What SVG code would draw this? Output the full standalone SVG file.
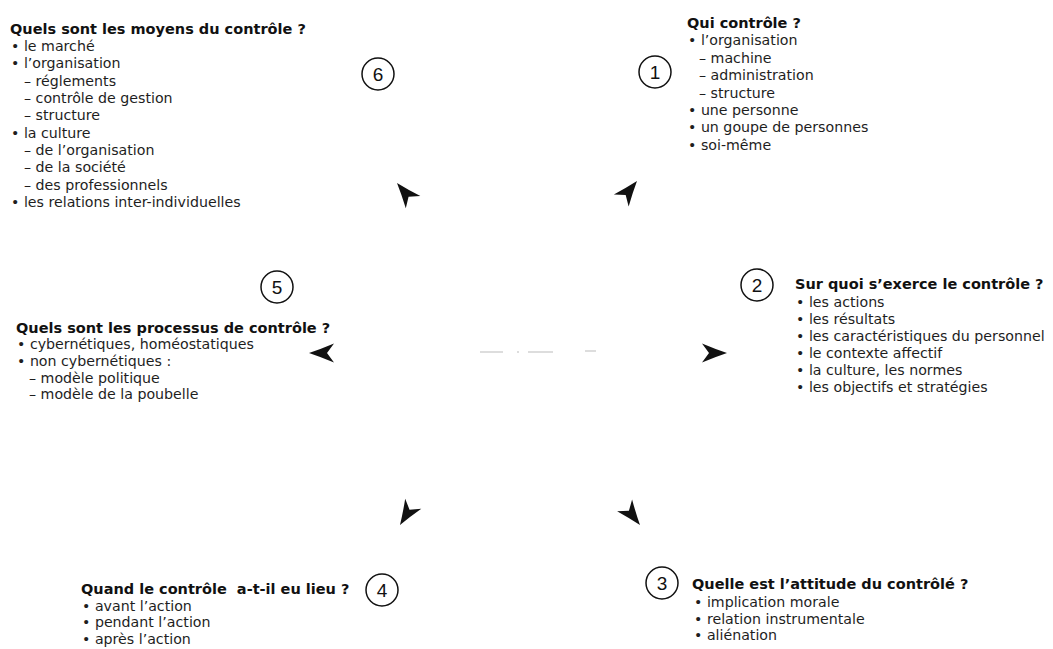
<svg xmlns="http://www.w3.org/2000/svg" xmlns:xlink="http://www.w3.org/1999/xlink" width="1053" height="649" viewBox="0 0 1053 649">
  <style>
    .t { font-family: "DejaVu Sans", "Liberation Sans", sans-serif; font-size: 14.5px; font-weight: 700; fill: #111; }
    .b { font-family: "DejaVu Sans", "Liberation Sans", sans-serif; font-size: 14.2px; fill: #1e1e1e; }
    .num { font-family: "Liberation Sans", Arial, sans-serif; font-size: 19px; fill: #111; text-anchor: middle; }
    .ring { fill: none; stroke: #111; stroke-width: 1.5; }
    .head { fill: #111; }
    .faint { stroke: #bbb; stroke-width: 1; }
  </style>
  <defs>
    <!-- stealth-style arrowhead, tip at origin, pointing along +x -->
    <path id="ah" d="M0,0 Q-12,-4 -25,-9.5 L-18,0 L-25,9.5 Q-12,4 0,0 Z"/>
  </defs>
  <rect width="1053" height="649" fill="#fff"/>

  <!-- 6: means of control -->
  <g id="node6">
    <circle class="ring" cx="378" cy="74" r="16"/>
    <text class="num" x="378" y="81">6</text>
    <text class="t" x="10" y="34">Quels sont les moyens du contrôle ?</text>
    <text class="b" x="11" y="51">• le marché</text>
    <text class="b" x="11" y="68">• l’organisation</text>
    <text class="b" x="24" y="86">– réglements</text>
    <text class="b" x="24" y="103">– contrôle de gestion</text>
    <text class="b" x="24" y="120">– structure</text>
    <text class="b" x="11" y="138">• la culture</text>
    <text class="b" x="24" y="155">– de l’organisation</text>
    <text class="b" x="24" y="172">– de la société</text>
    <text class="b" x="24" y="190">– des professionnels</text>
    <text class="b" x="11" y="207">• les relations inter-individuelles</text>
  </g>

  <!-- 1: who controls -->
  <g id="node1">
    <circle class="ring" cx="655" cy="72" r="16"/>
    <text class="num" x="655" y="79">1</text>
    <text class="t" x="687" y="28">Qui contrôle ?</text>
    <text class="b" x="688" y="45">• l’organisation</text>
    <text class="b" x="699" y="63">– machine</text>
    <text class="b" x="699" y="80">– administration</text>
    <text class="b" x="699" y="98">– structure</text>
    <text class="b" x="688" y="115">• une personne</text>
    <text class="b" x="688" y="132">• un goupe de personnes</text>
    <text class="b" x="688" y="150">• soi-même</text>
  </g>

  <!-- 2: what control applies to -->
  <g id="node2">
    <circle class="ring" cx="757" cy="285" r="16"/>
    <text class="num" x="757" y="292">2</text>
    <text class="t" x="795" y="289">Sur quoi s’exerce le contrôle ?</text>
    <text class="b" x="796" y="307">• les actions</text>
    <text class="b" x="796" y="324">• les résultats</text>
    <text class="b" x="796" y="341">• les caractéristiques du personnel</text>
    <text class="b" x="796" y="358">• le contexte affectif</text>
    <text class="b" x="796" y="375">• la culture, les normes</text>
    <text class="b" x="796" y="392">• les objectifs et stratégies</text>
  </g>

  <!-- 3: attitude of the controlled -->
  <g id="node3">
    <circle class="ring" cx="662" cy="583" r="16"/>
    <text class="num" x="662" y="590">3</text>
    <text class="t" x="692" y="589">Quelle est l’attitude du contrôlé ?</text>
    <text class="b" x="694" y="607">• implication morale</text>
    <text class="b" x="694" y="623.5">• relation instrumentale</text>
    <text class="b" x="694" y="640">• aliénation</text>
  </g>

  <!-- 4: when control happens -->
  <g id="node4">
    <circle class="ring" cx="382" cy="590" r="16"/>
    <text class="num" x="382" y="597">4</text>
    <text class="t" x="81" y="594" xml:space="preserve">Quand le contrôle  a-t-il eu lieu ?</text>
    <text class="b" x="82" y="610.5">• avant l’action</text>
    <text class="b" x="82" y="627">• pendant l’action</text>
    <text class="b" x="82" y="643.5">• après l’action</text>
  </g>

  <!-- 5: control processes -->
  <g id="node5">
    <circle class="ring" cx="277" cy="287" r="16"/>
    <text class="num" x="277" y="294">5</text>
    <text class="t" x="16" y="332.5">Quels sont les processus de contrôle ?</text>
    <text class="b" x="17" y="349">• cybernétiques, homéostatiques</text>
    <text class="b" x="17" y="366">• non cybernétiques :</text>
    <text class="b" x="29" y="382.5">– modèle politique</text>
    <text class="b" x="29" y="399">– modèle de la poubelle</text>
  </g>

  <!-- connectors: arrowheads radiating from the centre -->
  <g id="connectors">
    <line class="faint" x1="480" y1="352" x2="503" y2="352"/>
    <line class="faint" x1="517" y1="352" x2="519" y2="352"/>
    <line class="faint" x1="528" y1="352" x2="553" y2="352"/>
    <line class="faint" x1="585" y1="351" x2="596" y2="351"/>
    <use class="head" xlink:href="#ah" transform="translate(637,181) rotate(-51)"/>
    <use class="head" xlink:href="#ah" transform="translate(727,353) rotate(0)"/>
    <use class="head" xlink:href="#ah" transform="translate(640,525) rotate(52)"/>
    <use class="head" xlink:href="#ah" transform="translate(400,525) rotate(122)"/>
    <use class="head" xlink:href="#ah" transform="translate(309,353) rotate(180)"/>
    <use class="head" xlink:href="#ah" transform="translate(397,183) rotate(-130)"/>
  </g>
</svg>
